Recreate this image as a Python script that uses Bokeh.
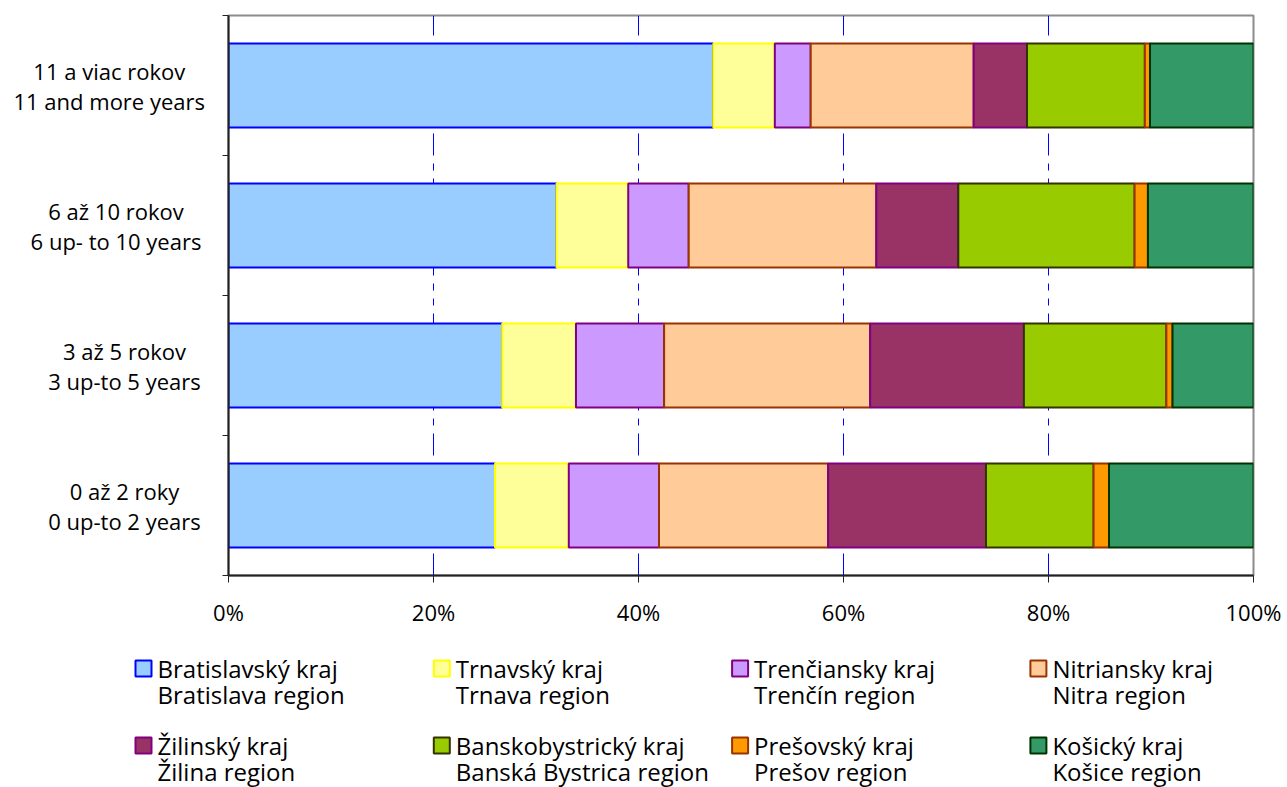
import numpy as np
from bokeh.plotting import figure
from bokeh.models import Range1d, FixedTicker
from bokeh.layouts import column, row
from bokeh.core.properties import value
from bokeh.embed import file_html
from bokeh.resources import INLINE

FONT = "Open Sans"

# ---- data -------------------------------------------------------------
categories_sk = ["0 až 2 roky", "3 až 5 rokov", "6 až 10 rokov", "11 a viac rokov"]
categories_en = ["0 up-to 2 years", "3 up-to 5 years", "6 up- to 10 years", "11 and more years"]

tick_values = [0, 20, 40, 60, 80, 100]
tick_labels = ["0%", "20%", "40%", "60%", "80%", "100%"]

regions_sk = ["Bratislavský kraj", "Trnavský kraj", "Trenčiansky kraj", "Nitriansky kraj",
              "Žilinský kraj", "Banskobystrický kraj", "Prešovský kraj", "Košický kraj"]
regions_en = ["Bratislava region", "Trnava region", "Trenčín region", "Nitra region",
              "Žilina region", "Banská Bystrica region", "Prešov region", "Košice region"]

# shares (%) per category, bottom to top: 0-2, 3-5, 6-10, 11+
bratislava = [26.0, 26.7, 32.0, 47.3]
trnava = [7.2, 7.2, 7.0, 6.0]
trencin = [8.8, 8.6, 5.9, 3.5]
nitra = [16.5, 20.1, 18.3, 15.9]
zilina = [15.4, 15.0, 8.0, 5.2]
banska_bystrica = [10.5, 13.9, 17.2, 11.5]
presov = [1.5, 0.6, 1.3, 0.5]
kosice = [14.1, 7.9, 10.3, 10.1]

fill_colors = ["#99CCFF", "#FFFF99", "#CC99FF", "#FFCC99", "#993366", "#99CC00", "#FF9900", "#339966"]
line_colors = ["#0000FF", "#FFFF00", "#800080", "#993300", "#800080", "#333300", "#993300", "#003300"]

series = [bratislava, trnava, trencin, nitra, zilina, banska_bystrica, presov, kosice]

# ---- geometry -----------------------------------------------------------
W = 1287
H_MAIN = 633
H_LEG = 154
LAB_W = 212
B_TOP, B_BOT = 15, 58

yrange = Range1d(0, len(categories_sk))
ypos = np.arange(len(categories_sk)) + 0.5

# ---- main chart ---------------------------------------------------------
p = figure(width=W - LAB_W, height=H_MAIN, x_range=Range1d(0, 100), y_range=yrange,
           toolbar_location=None, output_backend="svg",
           min_border_left=16, min_border_right=34, min_border_top=B_TOP, min_border_bottom=B_BOT)

data = np.array(series, dtype=float)
shares = data / data.sum(axis=0) * 100.0
right = np.cumsum(shares, axis=0)
left = right - shares

for k in range(len(series)):
    p.hbar(y=ypos, left=left[k], right=right[k], height=0.6,
           fill_color=fill_colors[k], line_color=line_colors[k], line_width=2)

p.outline_line_color = "#8C8C8C"
p.outline_line_width = 2

p.xaxis.ticker = FixedTicker(ticks=tick_values)
p.xaxis.major_label_overrides = {v: t for v, t in zip(tick_values, tick_labels)}
p.xaxis.major_label_text_font = FONT
p.xaxis.major_label_text_font_size = "22px"
p.xaxis.major_label_text_color = "#000000"
p.xaxis.major_label_standoff = 14
p.xaxis.axis_line_color = "#222222"
p.xaxis.axis_line_width = 2
p.xaxis.major_tick_line_color = "#222222"
p.xaxis.major_tick_line_width = 1
p.xaxis.major_tick_out = 7
p.xaxis.major_tick_in = 0
p.xaxis.minor_tick_line_color = None

p.yaxis.ticker = FixedTicker(ticks=list(range(len(categories_sk) + 1)))
p.yaxis.major_label_overrides = {i: "" for i in range(len(categories_sk) + 1)}
p.yaxis.major_label_text_font_size = "0px"
p.yaxis.major_label_standoff = 0
p.yaxis.axis_line_color = "#222222"
p.yaxis.axis_line_width = 2
p.yaxis.major_tick_line_color = "#222222"
p.yaxis.major_tick_out = 6
p.yaxis.major_tick_in = 0
p.yaxis.minor_tick_line_color = None

p.ygrid.visible = False
p.xgrid.ticker = FixedTicker(ticks=tick_values[1:-1])
p.xgrid.grid_line_color = "#0000FF"
p.xgrid.grid_line_width = 1
p.xgrid.grid_line_dash = "22 8 7 8 7 8"

# ---- category labels (left panel sharing the y range) -------------------
lab = figure(width=LAB_W, height=H_MAIN, x_range=Range1d(0, LAB_W), y_range=yrange,
             toolbar_location=None, output_backend="svg",
             min_border_left=0, min_border_right=0, min_border_top=B_TOP, min_border_bottom=B_BOT)
lab.axis.visible = False
lab.grid.visible = False
lab.outline_line_color = None


def est_width(s):
    return sum(8.5 if (c.isdigit() or c in " -") else 13.0 for c in s)


label_text = [sk + "\n" + en for sk, en in zip(categories_sk, categories_en)]
label_x = [208 - max(est_width(sk), est_width(en)) / 2 for sk, en in zip(categories_sk, categories_en)]
lab.text(x=label_x, y=ypos, text=label_text, text_align="center", text_baseline="middle",
         text_font=value(FONT), text_font_size="22px", text_color="#000000", text_line_height=1.0)

# ---- legend figure -----------------------------------------------------
leg = figure(width=W, height=H_LEG, x_range=Range1d(0, W), y_range=Range1d(H_LEG, 0),
             toolbar_location=None, output_backend="svg", min_border=0)
leg.axis.visible = False
leg.grid.visible = False
leg.outline_line_color = None

n = len(regions_sk)
cols = [i % 4 for i in range(n)]
rows = [i // 4 for i in range(n)]
mx = [143 + 298.3 * c for c in cols]
my = [35 + 77 * r for r in rows]
tx = [157 + 298.3 * c for c in cols]
ty1 = [34.5 + 77 * r for r in rows]
ty2 = [60.5 + 77 * r for r in rows]

leg.scatter(x=mx, y=my, marker="square", size=16, fill_color=fill_colors,
            line_color=line_colors, line_width=2)
leg.text(x=tx, y=ty1, text=regions_sk, text_font=value(FONT), text_font_size="24px",
         text_baseline="middle", text_align="left", text_color="#000000")
leg.text(x=tx, y=ty2, text=regions_en, text_font=value(FONT), text_font_size="24px",
         text_baseline="middle", text_align="left", text_color="#000000")

layout = column(row(lab, p, spacing=0), leg, spacing=0)
open("out.html", "w").write(file_html(layout, INLINE))
